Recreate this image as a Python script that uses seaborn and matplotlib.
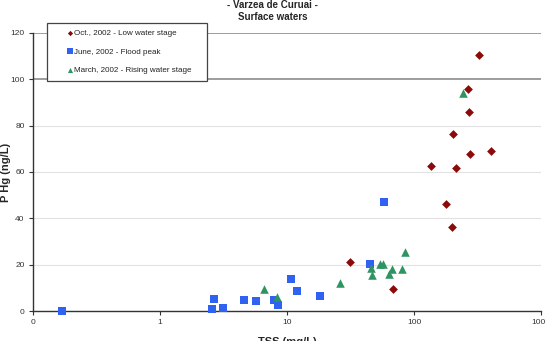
import numpy as np
import pandas as pd
import matplotlib
matplotlib.use("Agg")
import matplotlib.pyplot as plt
from matplotlib.patches import Rectangle
import seaborn as sns

# values (TSS mg/L, P Hg ng/L)
oct_tss = [31.2, 68.7, 136, 179, 198, 204, 215, 268, 273, 278, 325, 404]
oct_phg = [21.0, 9.6, 62.4, 46.3, 36.1, 76.5, 61.6, 95.7, 85.8, 67.8, 110.6, 68.9]

jun_tss = [0.17, 2.58, 2.66, 3.15, 4.6, 5.65, 7.9, 8.45, 10.8, 11.9, 18.2, 45, 58]
jun_phg = [0.0, 0.9, 5.0, 1.1, 4.8, 4.3, 4.6, 2.6, 13.7, 8.5, 6.6, 20.4, 47.0]

mar_tss = [6.56, 8.28, 26.1, 46, 47, 53.7, 56.7, 63.5, 67.5, 80.9, 84.5, 243]
mar_phg = [9.4, 6.2, 12.1, 18.7, 15.7, 20.1, 20.4, 16.1, 18.1, 18.0, 25.3, 94.2]

series = ["Oct., 2002 - Low water stage", "June, 2002 - Flood peak",
          "March, 2002 - Rising water stage"]
x_ticks = [0.1, 1, 10, 100, 1000]
x_labels = ["0", "1", "10", "100", "1000"]
y_ticks = [0, 20, 40, 60, 80, 100, 120]

df = pd.DataFrame({
    "tss": oct_tss + jun_tss + mar_tss,
    "phg": oct_phg + jun_phg + mar_phg,
    "campaign": [series[0]] * len(oct_tss) + [series[1]] * len(jun_tss)
                + [series[2]] * len(mar_tss),
})

sns.set_style("white")
plt.rcParams["font.family"] = ["Liberation Sans", "DejaVu Sans"]

W, H = 545, 341
fig = plt.figure(figsize=(W / 100, H / 100), dpi=100)
ax = fig.add_axes([33 / W, 1 - 311 / H, (541 - 33) / W, (311 - 33) / H])

palette = {series[0]: "#8b0a0a", series[1]: "#2f62f0", series[2]: "#2e9462"}
markers = {series[0]: "D", series[1]: "s", series[2]: "^"}
sizes = {series[0]: 20, series[1]: 38, series[2]: 38}

for name in series:
    sub = df[df["campaign"] == name]
    sns.scatterplot(data=sub, x="tss", y="phg", color=palette[name],
                    marker=markers[name], s=sizes[name], linewidth=0,
                    label=name, ax=ax, zorder=3, clip_on=False)

ax.set_xscale("log")
ax.set_xlim(0.1, 1000)
ax.set_ylim(0, 120)
ax.xaxis.set_major_locator(matplotlib.ticker.FixedLocator(x_ticks))
ax.xaxis.set_minor_locator(matplotlib.ticker.NullLocator())
ax.set_xticklabels(x_labels)
ax.set_yticks(y_ticks)

ax.yaxis.grid(True, color="#e2e2e2", lw=0.8)
for tick_val, gl in zip(y_ticks, ax.get_ygridlines()):
    if tick_val >= 100:
        gl.set_color("#8c8c8c")
        gl.set_linewidth(1.2)
ax.set_axisbelow(True)

for side in ["top", "right"]:
    ax.spines[side].set_visible(False)
for side in ["left", "bottom"]:
    ax.spines[side].set_color("#333333")
    ax.spines[side].set_linewidth(1.0)

ax.tick_params(axis="both", which="major", labelsize=6, labelcolor="#333333",
               color="#333333", length=3, width=0.8, direction="out", pad=3,
               bottom=True, left=True)

ax.set_xlabel("TSS (mg/L)", fontsize=8, fontweight="bold", labelpad=8)
ax.set_ylabel("P Hg (ng/L)", fontsize=8, fontweight="bold", va="center")
ax.yaxis.set_label_coords((6 - 33) / (541 - 33), 0.5)
fig.text(0.5, 1 - 5 / H, "- Varzea de Curuai -", ha="center", va="center",
         fontsize=7, fontweight="bold")
fig.text(0.5, 1 - 16.5 / H, "Surface waters", ha="center", va="center",
         fontsize=7, fontweight="bold")

# legend: own box (for the wide padding of the original), entries on top
handles, labels = ax.get_legend_handles_labels()
ax.get_legend().remove()
box = Rectangle((46.7 / W, 1 - 80.7 / H), 160 / W, 57.4 / H,
                transform=fig.transFigure, facecolor="white",
                edgecolor="#444444", lw=0.9, zorder=5)
fig.patches.append(box)
leg = fig.legend(handles, labels, loc="upper left",
                 bbox_to_anchor=(66 / W, 1 - 29 / H), fontsize=5.8,
                 frameon=False, handletextpad=0.05, handlelength=1.0,
                 labelspacing=1.4, borderpad=0, markerscale=0.6,
                 borderaxespad=0)
leg.set_zorder(6)
for t in leg.get_texts():
    t.set_color("#222222")

fig.savefig("out.png", dpi=100)
